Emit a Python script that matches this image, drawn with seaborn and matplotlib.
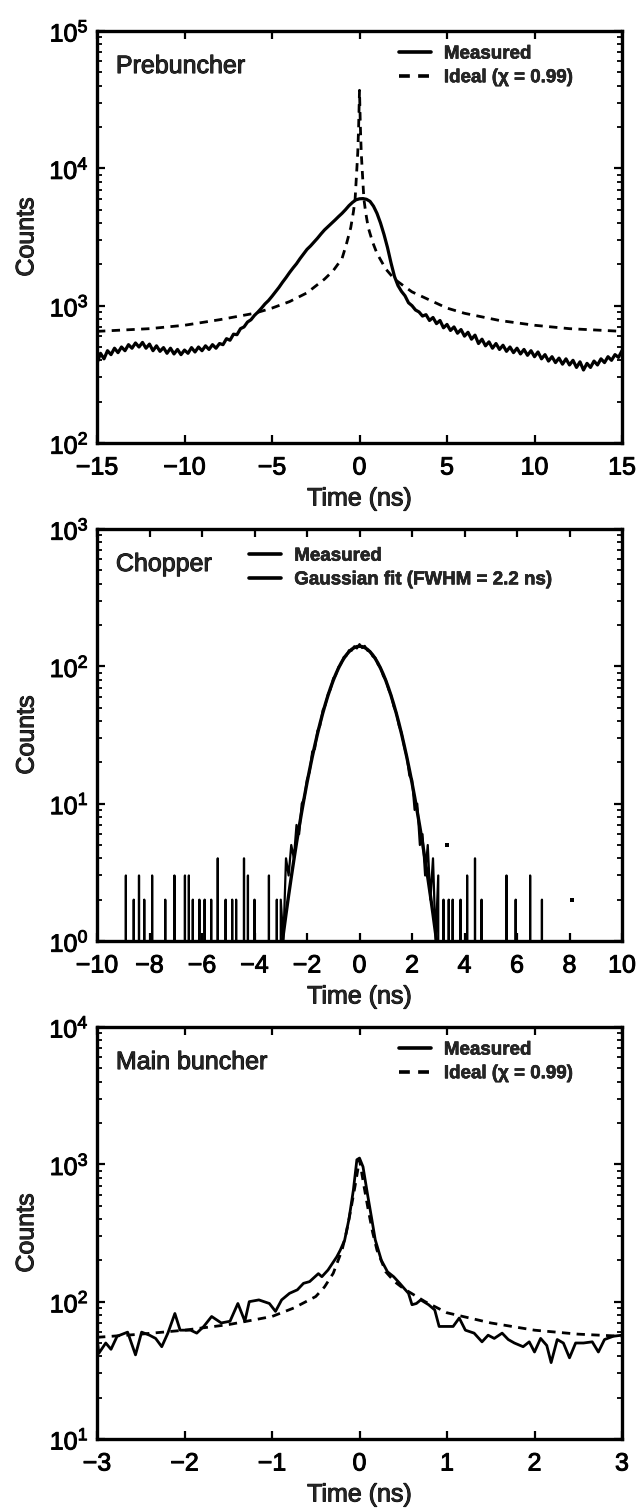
import numpy as np
import pandas as pd
import matplotlib
matplotlib.use("Agg")
import matplotlib.pyplot as plt
import matplotlib.patheffects as pe
import seaborn as sns
from matplotlib.lines import Line2D
from matplotlib.ticker import LogLocator, NullFormatter, FixedLocator

# ---------------- data ----------------
# Panel 1: Prebuncher (0.2 ns bins from -15 to 15)
pb_time = np.round(np.arange(-15.0, 15.0001, 0.2), 1)
pb_measured = [
    380, 450, 410, 470, 440, 490, 455, 500, 470, 520,
    490, 535, 500, 540, 490, 525, 470, 510, 465, 495,
    450, 490, 445, 480, 440, 475, 450, 495, 460, 500,
    470, 510, 480, 520, 490, 530, 520, 575, 560, 620,
    615, 680, 700, 760, 790, 850, 900, 960, 1030, 1090,
    1170, 1260, 1360, 1480, 1600, 1740, 1880, 2020, 2200, 2380,
    2570, 2720, 2900, 3100, 3330, 3560, 3760, 3980, 4200, 4450,
    4700, 5000, 5350, 5650, 5900, 6000, 6020, 5950, 5750, 5300,
    4700, 4000, 3300, 2650, 2050, 1630, 1400, 1270, 1180, 1050,
    1000, 930, 900, 840, 860, 780, 820, 740, 780, 690,
    730, 660, 700, 630, 670, 600, 640, 570, 610, 530,
    570, 510, 545, 490, 530, 480, 515, 465, 500, 455,
    490, 445, 480, 435, 470, 425, 460, 410, 440, 395,
    425, 385, 415, 375, 410, 370, 400, 355, 390, 340,
    380, 355, 395, 370, 410, 385, 425, 400, 440, 420,
    470,
]
pb_ideal_time = [-15, -12, -10, -8, -6, -5, -4, -3, -2, -1.5, -1, -0.75, -0.5, -0.35,
                 -0.25, -0.15, -0.1, -0.05, 0, 0.05, 0.1, 0.15, 0.25, 0.35, 0.5, 0.75,
                 1, 1.5, 2, 2.5, 3, 4, 5, 6, 8, 10, 12, 15]
pb_ideal = [650, 680, 720, 790, 880, 960, 1070, 1240, 1560, 1800, 2200, 2800, 3700, 4800,
            6000, 10000, 13000, 20000, 37000, 20000, 13000, 10000, 6000, 4800, 3700, 2900,
            2400, 1850, 1560, 1400, 1260, 1100, 960, 880, 780, 720, 680, 650]

# Panel 2: Chopper
ch_core_time = np.round(np.arange(-3.0, 3.0001, 0.1), 1)
ch_core = [2, 1, 4, 3, 5, 4, 7, 6, 10, 11,
           15, 17, 24, 25, 34, 37, 48, 52, 63, 68,
           82, 86, 99, 104, 117, 119, 131, 130, 140, 135,
           145,
           136, 141, 130, 129, 118, 116, 103, 98, 85, 80,
           68, 62, 51, 46, 37, 33, 26, 22, 16, 15,
           9, 10, 5, 6, 3, 5, 2, 4, 1, 3]
ch_spike_left_t = [-8.9, -8.6, -8.4, -8.2, -7.9, -7.4, -7.05, -6.65, -6.5, -6.35, -6.1,
                   -5.9, -5.65, -5.4, -5.1, -4.85, -4.7, -4.4, -4.25, -4.0, -3.45, -3.15]
ch_spike_left_c = [3, 2, 3, 2, 3, 2, 3, 3, 3, 2, 2, 2, 2, 4, 2, 2, 2, 4, 3, 2, 3, 2]
ch_spike_right_t = [3.2, 3.4, 3.55, 3.85, 4.1, 4.4, 4.65, 5.6, 5.95, 6.5, 6.95]
ch_spike_right_c = [2, 2, 2, 2, 3, 4, 2, 3, 2, 3, 2]
ch_dot_t = [3.35, 8.1]
ch_dot_c = [5, 2]
ch_fit_time = np.round(np.arange(-3.2, 3.2001, 0.1), 1)
ch_fit_half = [0.40, 0.57, 0.81, 1.13, 1.57, 2.15, 2.91, 3.90, 5.17, 6.76, 8.75, 11.2,
               14.2, 17.7, 21.9, 26.7, 32.3, 38.6, 45.6, 53.2, 61.4, 70.0, 79.0, 88.0,
               97.0, 105.7, 113.9, 121.3, 127.7, 133.0, 136.8, 139.2]
ch_fit = ch_fit_half + [140.0] + ch_fit_half[::-1]

# Panel 3: Main buncher
mb_time = [-3.0, -2.98, -2.9, -2.84, -2.77, -2.65, -2.56, -2.49, -2.4, -2.33, -2.26, -2.19,
           -2.11, -2.05, -1.93, -1.86, -1.78, -1.69, -1.58, -1.48, -1.39, -1.31, -1.26,
           -1.15, -1.03, -0.96, -0.89, -0.8, -0.71, -0.64, -0.57, -0.47, -0.43, -0.36,
           -0.26, -0.22, -0.17, -0.12, -0.07, -0.03, 0.0, 0.04, 0.09, 0.14, 0.18, 0.25,
           0.32, 0.39, 0.46, 0.51, 0.56, 0.6, 0.65, 0.7, 0.79, 0.86, 0.91, 0.98, 1.07,
           1.14, 1.21, 1.31, 1.4, 1.47, 1.54, 1.63, 1.7, 1.77, 1.87, 1.94, 2.0, 2.07,
           2.14, 2.19, 2.26, 2.33, 2.4, 2.47, 2.56, 2.66, 2.73, 2.8, 2.9, 3.0]
mb_measured = [55, 42, 50, 45, 56, 60, 41, 60, 57, 54, 47, 59,
               82, 62, 62, 59, 66, 78, 70, 72, 97, 72, 100,
               103, 97, 85, 103, 115, 122, 136, 140, 160, 152, 170,
               212, 237, 280, 400, 650, 1080, 1110, 960, 614, 400, 282, 200,
               165, 152, 136, 125, 115, 95, 97, 103, 95, 87, 66, 66, 66,
               76, 62, 59, 51, 57, 54, 59, 53, 50, 47, 51, 43, 54,
               48, 36, 53, 50, 39, 50, 50, 51, 43, 53, 56, 57]
mb_ideal_time = [-3, -2.5, -2, -1.5, -1, -0.75, -0.5, -0.4, -0.3, -0.2, -0.15, -0.1, -0.05,
                 0, 0.05, 0.1, 0.15, 0.2, 0.3, 0.4, 0.5, 0.75, 1, 1.5, 2, 2.5, 3]
mb_ideal = [55, 58, 62, 68, 78, 90, 109, 128, 161, 237, 320, 465, 700,
            1080, 700, 465, 320, 237, 165, 140, 125, 100, 83, 70, 62, 58, 56]

# ---------------- style ----------------
sns.set_style("ticks")
plt.rcParams['font.family'] = ['Liberation Sans', 'DejaVu Sans']
plt.rcParams['mathtext.fontset'] = 'custom'
plt.rcParams['mathtext.rm'] = 'Liberation Sans'
plt.rcParams['mathtext.it'] = 'Liberation Sans:italic'
plt.rcParams['mathtext.bf'] = 'Liberation Sans:bold'
plt.rcParams['axes.unicode_minus'] = True

W, H = 641, 1511
fig = plt.figure(figsize=(W / 100, H / 100), dpi=100)
left = 97 / W
width = 525 / W
ax_h = 412 / H
tops = [31, 529, 1027]
axes = [fig.add_axes([left, 1 - (t + 412) / H, width, ax_h]) for t in tops]

LW = 2.0
dash = (0, (3.0, 2.3))
TICK_FS = 18
LEG_FS = 13.5
HEAVY = [pe.withStroke(linewidth=0.7, foreground='black')]

def style_axis(ax, xticks, xlim, ylim, title):
    ax.set_yscale('log')
    ax.set_xlim(*xlim)
    ax.set_ylim(*ylim)
    ax.xaxis.set_major_locator(FixedLocator(xticks))
    ax.yaxis.set_major_locator(LogLocator(base=10, numticks=10))
    ax.yaxis.set_minor_locator(LogLocator(base=10, subs=np.arange(2, 10), numticks=20))
    ax.yaxis.set_minor_formatter(NullFormatter())
    ax.tick_params(which='both', direction='in', top=True, right=True,
                   labelsize=TICK_FS, colors='black')
    ax.tick_params(which='major', length=6, width=1.6)
    ax.tick_params(axis='x', which='major', pad=9)
    ax.tick_params(axis='y', which='major', pad=6)
    ax.tick_params(which='minor', length=3.5, width=1.3)
    for s in ax.spines.values():
        s.set_linewidth(2.4)
        s.set_color('black')
    ax.set_xlabel('Time (ns)', fontsize=TICK_FS, labelpad=5, path_effects=HEAVY)
    ax.set_ylabel('Counts', fontsize=TICK_FS, labelpad=8, path_effects=HEAVY)
    ax.text(0.036, 0.915, title, transform=ax.transAxes, fontsize=18,
            ha='left', va='center', path_effects=HEAVY)

def add_legend(ax, handles, labels, anchor):
    leg = ax.legend(handles, labels, loc='upper left', bbox_to_anchor=anchor,
                    frameon=False, handlelength=1.7, handletextpad=0.7,
                    labelspacing=0.35, borderaxespad=0, borderpad=0,
                    prop={'weight': 'bold', 'size': LEG_FS})
    for t in leg.get_texts():
        t.set_path_effects([pe.withStroke(linewidth=0.4, foreground='black')])

# ---- Panel 1 ----
ax = axes[0]
df1 = pd.DataFrame({'t': pb_time, 'c': pb_measured})
df1i = pd.DataFrame({'t': pb_ideal_time, 'c': pb_ideal})
sns.lineplot(data=df1, x='t', y='c', ax=ax, color='black', lw=LW + 0.3, estimator=None, sort=False)
sns.lineplot(data=df1i, x='t', y='c', ax=ax, color='black', lw=LW, linestyle=dash,
             estimator=None, sort=False)
style_axis(ax, [-15, -10, -5, 0, 5, 10, 15], (-15, 15), (1e2, 1e5), 'Prebuncher')
h = [Line2D([], [], color='black', lw=LW + 0.6),
     Line2D([], [], color='black', lw=LW + 0.6, linestyle=dash)]
add_legend(ax, h, ['Measured', 'Ideal (\u03c7 = 0.99)'], (0.575, 0.965))

# ---- Panel 2 ----
ax = axes[1]
xs, ys = [-10.0], [0]
for p, c in zip(ch_spike_left_t, ch_spike_left_c):
    xs += [p - 0.04, p, p + 0.04]
    ys += [0, c, 0]
xs += list(ch_core_time)
ys += list(ch_core)
for p, c in zip(ch_spike_right_t, ch_spike_right_c):
    xs += [p - 0.04, p, p + 0.04]
    ys += [0, c, 0]
xs += [10.0]
ys += [0]
df2 = pd.DataFrame({'t': xs, 'c': ys})
df2f = pd.DataFrame({'t': ch_fit_time, 'c': ch_fit})
df2d = pd.DataFrame({'t': ch_dot_t, 'c': ch_dot_c})
sns.lineplot(data=df2, x='t', y='c', ax=ax, color='black', lw=1.6, estimator=None, sort=False)
sns.lineplot(data=df2f, x='t', y='c', ax=ax, color='black', lw=LW + 0.4, estimator=None, sort=False)
sns.scatterplot(data=df2d, x='t', y='c', ax=ax, color='black', s=6, marker='s', linewidth=0)
style_axis(ax, list(range(-10, 11, 2)), (-10, 10), (1e0, 1e3), 'Chopper')
h = [Line2D([], [], color='black', lw=LW + 0.6),
     Line2D([], [], color='black', lw=LW + 0.6)]
add_legend(ax, h, ['Measured', 'Gaussian fit (FWHM = 2.2 ns)'], (0.29, 0.955))

# ---- Panel 3 ----
ax = axes[2]
df3 = pd.DataFrame({'t': mb_time, 'c': mb_measured})
df3i = pd.DataFrame({'t': mb_ideal_time, 'c': mb_ideal})
sns.lineplot(data=df3i, x='t', y='c', ax=ax, color='black', lw=LW, linestyle=dash,
             estimator=None, sort=False)
sns.lineplot(data=df3, x='t', y='c', ax=ax, color='black', lw=LW, estimator=None, sort=False)
style_axis(ax, list(range(-3, 4)), (-3, 3), (1e1, 1e4), 'Main buncher')
h = [Line2D([], [], color='black', lw=LW + 0.6),
     Line2D([], [], color='black', lw=LW + 0.6, linestyle=dash)]
add_legend(ax, h, ['Measured', 'Ideal (\u03c7 = 0.99)'], (0.575, 0.965))

fig.canvas.draw()
for a in axes:
    for lab in a.get_xticklabels() + a.get_yticklabels():
        lab.set_path_effects(HEAVY)

fig.savefig('out.png', dpi=100, facecolor='white')
